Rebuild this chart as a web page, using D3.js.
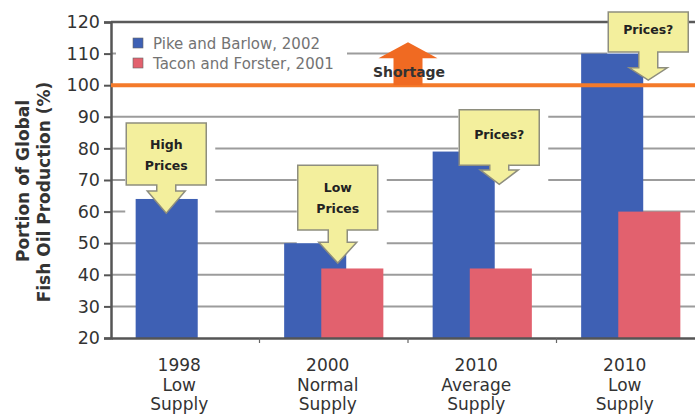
<!DOCTYPE html>
<html><head><meta charset="utf-8">
<script src="https://cdn.jsdelivr.net/npm/d3@7"></script>
<style>html,body{margin:0;padding:0;background:#fff;overflow:hidden}svg{display:block}</style>
</head><body>
<svg id="c" width="695" height="416"></svg>
<script>
// ---- data ----
const categories = ["1998 Low Supply", "2000 Normal Supply", "2010 Average Supply", "2010 Low Supply"];
const categoryLabels = [["1998","Low","Supply"],["2000","Normal","Supply"],["2010","Average","Supply"],["2010","Low","Supply"]];
const seriesNames = ["Pike and Barlow, 2002", "Tacon and Forster, 2001"];
const pikeBarlow = [64, 50, 79, 110];
const taconForster = [null, 42, 42, 60];
const yTicks = [20, 30, 40, 50, 60, 70, 80, 90, 100, 110, 120];
const shortageLevel = 100;
const calloutTexts = [["High","Prices"],["Low","Prices"],["Prices?"],["Prices?"]];

// ---- layout ----
const pL = 111, pR = 705, pT = 22, pB = 338;
const colors = ["#3e60b4", "#e2616e"];
const svg = d3.select("#c");

const x = d3.scaleBand().domain(categories).range([pL, pR]).padding(0);
const y = d3.scaleLinear().domain([20, 120]).range([pB, pT]);
const bw = x.bandwidth();
const barW = bw * 0.418, shift = bw * 0.25;
const cx = c => x(c) + bw / 2;

// gridlines
svg.append("g").selectAll("line").data(yTicks.filter(v => v > 20 && v < 120)).join("line")
  .attr("x1", pL).attr("x2", pR).attr("y1", d => y(d)).attr("y2", d => y(d))
  .attr("stroke", "#9c9c9c").attr("stroke-width", 2);

// callout geometry (value space for vertical, pixel offset from category centre for horizontal)
const callouts = [
  {cat: 0, dx: -19, boxTop: 88, boxBot: 68.4, headBase: 66.5, tip: 59.5},
  {cat: 1, dx: 4,   boxTop: 74.7, boxBot: 54.2, headBase: 50.3, tip: 43.7},
  {cat: 2, dx: 17,  boxTop: 92.2, boxBot: 74.7, headBase: 73.2, tip: 68.6},
  {cat: 3, dx: 17.5,boxTop: 123.2, boxBot: 110.5, headBase: 105.5, tip: 101.6}
];
// white bounding backgrounds of callouts (behind bars)
svg.append("g").selectAll("rect").data(callouts).join("rect")
  .attr("x", d => cx(categories[d.cat]) + d.dx - 41)
  .attr("y", d => y(d.boxTop))
  .attr("width", 90)
  .attr("height", d => y(d.tip) - y(d.boxTop))
  .attr("fill", "#fff");

// bars
const barData = [];
categories.forEach((c, i) => {
  if (pikeBarlow[i] != null) barData.push({c, v: pikeBarlow[i], s: 0});
  if (taconForster[i] != null) barData.push({c, v: taconForster[i], s: 1});
});
svg.append("g").selectAll("rect").data(barData).join("rect")
  .attr("x", d => cx(d.c) - barW / 2 - shift / 2 + d.s * shift)
  .attr("y", d => y(d.v))
  .attr("width", barW)
  .attr("height", d => y(20) - y(d.v))
  .attr("fill", d => colors[d.s]);

// top border
svg.append("line").attr("x1", pL).attr("x2", pR).attr("y1", y(120)).attr("y2", y(120))
  .attr("stroke", "#5a5a5a").attr("stroke-width", 2.5);

// axes
const ya = svg.append("g").attr("transform", `translate(${pL},0)`)
  .call(d3.axisLeft(y).tickValues(yTicks).tickSize(7).tickPadding(4));
ya.select(".domain").attr("stroke", "#555").attr("stroke-width", 2.5);
ya.selectAll(".tick line").attr("stroke", "#555").attr("stroke-width", 2);
ya.selectAll(".tick text").attr("font-family", "DejaVu Sans, sans-serif").attr("font-size", 17.5)
  .attr("fill", "#333").attr("x", -11);

const xa = svg.append("g").attr("transform", `translate(0,${pB})`)
  .call(d3.axisBottom(x).tickSize(0).tickFormat(""));
xa.select(".domain").attr("stroke", "#555").attr("stroke-width", 2.5);
svg.append("g").selectAll("line").data(categories.slice(1)).join("line")
  .attr("x1", d => x(d)).attr("x2", d => x(d)).attr("y1", pB).attr("y2", pB + 5)
  .attr("stroke", "#666").attr("stroke-width", 1.2);

// category labels
const lab = svg.append("g").selectAll("text").data(categories).join("text")
  .attr("font-family", "DejaVu Sans, sans-serif").attr("font-size", 17).attr("fill", "#333")
  .attr("text-anchor", "middle");
lab.selectAll("tspan").data((d, i) => categoryLabels[i].map(t => ({t, c: d}))).join("tspan")
  .attr("x", d => cx(d.c) - 6).attr("y", (d, j) => 371 + j * 19.5).text(d => d.t);

// shortage line
svg.append("line").attr("x1", pL).attr("x2", pR).attr("y1", y(shortageLevel)).attr("y2", y(shortageLevel))
  .attr("stroke", "#f47a2a").attr("stroke-width", 4);

// shortage arrow
const ax = x(categories[2]);
const ab = y(shortageLevel), ahb = y(108.5), at = y(113.6);
svg.append("path")
  .attr("d", `M${ax-14.5},${ab} L${ax-14.5},${ahb} L${ax-29.5},${ahb} L${ax},${at} L${ax+29.5},${ahb} L${ax+14.5},${ahb} L${ax+14.5},${ab} Z`)
  .attr("fill", "#f06a22");
svg.append("text").attr("x", ax + 1).attr("y", 77).attr("text-anchor", "middle")
  .attr("font-family", "DejaVu Sans, sans-serif").attr("font-weight", "bold").attr("font-size", 14)
  .attr("fill", "#333").text("Shortage");

// legend
svg.append("rect").attr("x", 116).attr("y", 30).attr("width", 231).attr("height", 45).attr("fill", "#fff");
const lg = svg.append("g").selectAll("g").data(seriesNames).join("g")
  .attr("transform", (d, i) => `translate(133,${38 + i * 20})`);
lg.append("rect").attr("width", 10).attr("height", 10).attr("fill", (d, i) => colors[i])
  .attr("stroke", "#666").attr("stroke-width", 0.6);
lg.append("text").attr("x", 20).attr("y", 10.5).attr("font-family", "DejaVu Sans, sans-serif")
  .attr("font-size", 15).attr("fill", "#737373").text(d => d);

// callouts
const cg = svg.append("g").selectAll("g").data(callouts).join("g");
cg.append("path").attr("d", d => {
  const c = cx(categories[d.cat]) + d.dx;
  const bt = y(d.boxTop), bb = y(d.boxBot), hb = y(d.headBase), tp = y(d.tip);
  const hw = 40, sw = 9.5, hh = 19;
  return `M${c-hw},${bt} L${c+hw},${bt} L${c+hw},${bb} L${c+sw},${bb} L${c+sw},${hb} L${c+hh},${hb} L${c},${tp} L${c-hh},${hb} L${c-sw},${hb} L${c-sw},${bb} L${c-hw},${bb} Z`;
}).attr("fill", "#f3ef9d").attr("stroke", "#8e8e7e").attr("stroke-width", 1.5).attr("stroke-linejoin", "miter");
cg.append("text").attr("text-anchor", "middle").attr("font-family", "DejaVu Sans, sans-serif")
  .attr("font-weight", "bold").attr("font-size", 12.5).attr("fill", "#222")
  .each(function(d, i) {
    const lines = calloutTexts[i];
    const c = cx(categories[d.cat]) + d.dx;
    const mid = (y(d.boxTop) + y(d.boxBot)) / 2;
    const lh = 21;
    d3.select(this).selectAll("tspan").data(lines).join("tspan")
      .attr("x", c).attr("y", (t, j) => mid + 5 + (j - (lines.length - 1) / 2) * lh - (lines.length === 1 ? 3 : 0))
      .text(t => t);
  });

// y title
const yt = svg.append("text").attr("font-family", "DejaVu Sans, sans-serif").attr("font-weight", "bold")
  .attr("font-size", 17).attr("fill", "#333").attr("text-anchor", "middle")
  .attr("transform", "translate(0,186) rotate(-90)");
yt.append("tspan").attr("x", 5).attr("y", 29).text("Portion of Global");
yt.append("tspan").attr("x", -6).attr("y", 50).text("Fish Oil Production (%)");
</script>
</body></html>
